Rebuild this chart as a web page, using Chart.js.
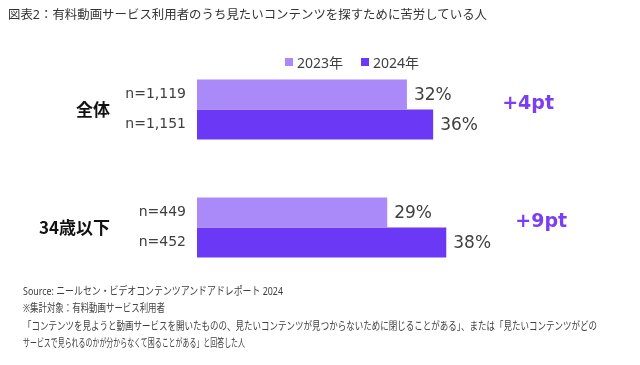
<!DOCTYPE html>
<html lang="ja">

<head>
    <meta charset="UTF-8">
    <script src="https://cdn.jsdelivr.net/npm/chart.js"></script>
    <title>図表2</title>
    <style>
        body { margin: 0; background: #fff; }
        .container { position: relative; width: 640px; height: 365px; overflow: hidden; font-family: "Noto Sans", "Noto Sans CJK JP", sans-serif; color: #333; }
        #grafico { position: absolute; left: 0; top: 0; }
        .titulo { position: absolute; left: 8px; top: 6px; font-size: 12.5px; line-height: 18px; white-space: nowrap; }
        .legenda { position: absolute; top: 54px; font-size: 14px; line-height: 18px; white-space: nowrap; color: #404040; }
        .legenda i { display: inline-block; width: 8px; height: 8px; margin-right: 4px; vertical-align: 2px; }
        .nota { position: absolute; left: 23px; font-size: 11px; line-height: 16px; white-space: nowrap; color: #404040; }
        .fit { display: inline-block; transform-origin: 0 50%; }
    </style>
</head>

<body>
    <div class="container">
        <canvas id="grafico" width="640" height="365"></canvas>
        <div class="titulo"><span class="fit" data-w="479">図表2：有料動画サービス利用者のうち見たいコンテンツを探すために苦労している人</span></div>
        <div class="legenda" id="leg1" style="left:285px"></div>
        <div class="legenda" id="leg2" style="left:361px"></div>
        <div class="nota" style="top:283px"><span class="fit" data-w="260">Source: ニールセン・ビデオコンテンツアンドアドレポート 2024</span></div>
        <div class="nota" style="top:300px"><span class="fit" data-w="142">※集計対象：有料動画サービス利用者</span></div>
        <div class="nota" style="top:318px"><span class="fit" data-w="574">「コンテンツを見ようと動画サービスを開いたものの、見たいコンテンツが見つからないために閉じることがある」、または「見たいコンテンツがどの</span></div>
        <div class="nota" style="top:335px"><span class="fit" data-w="222">サービスで見られるのかが分からなくて困ることがある」と回答した人</span></div>
    </div>
</body>

</html>
<script>
    // dados do gráfico
    var categorias = ['全体', '34歳以下'];
    var anos = ['2023年', '2024年'];
    var valores2023 = [32, 29];
    var valores2024 = [36, 38];
    var amostras2023 = ['n=1,119', 'n=449'];
    var amostras2024 = ['n=1,151', 'n=452'];
    var diferencas = ['+4pt', '+9pt'];

    var cor2023 = '#a98af8';
    var cor2024 = '#6b38f5';

    // legenda em html
    document.getElementById('leg1').innerHTML = '<i style="background:' + cor2023 + '"></i>' + anos[0];
    document.getElementById('leg2').innerHTML = '<i style="background:' + cor2024 + '"></i>' + anos[1];

    // ajusta largura dos textos
    document.querySelectorAll('.fit').forEach(function (el) {
        var w = el.getBoundingClientRect().width;
        var alvo = parseFloat(el.dataset.w);
        el.style.transform = 'scaleX(' + (alvo / w) + ')';
    });

    const rotulos = {
        id: 'rotulos',
        afterDatasetsDraw(chart) {
            const ctx = chart.ctx;
            const xs = chart.scales.x;
            ctx.save();
            ctx.textBaseline = 'middle';
            const amostras = [amostras2023, amostras2024];
            chart.data.datasets.forEach(function (ds, d) {
                chart.getDatasetMeta(d).data.forEach(function (bar, i) {
                    ctx.fillStyle = '#404040';
                    ctx.font = '17px "DejaVu Sans", sans-serif';
                    ctx.textAlign = 'left';
                    ctx.fillText(ds.data[i] + '%', bar.x + 7, bar.y + 1);
                    ctx.font = '14px "DejaVu Sans", sans-serif';
                    ctx.textAlign = 'right';
                    ctx.fillText(amostras[d][i], xs.left - 11, bar.y);
                });
            });
            // diferença entre anos
            ctx.font = 'bold 19px "DejaVu Sans", sans-serif';
            ctx.fillStyle = '#7b3ef3';
            ctx.textAlign = 'left';
            diferencas.forEach(function (txt, i) {
                const maior = Math.max(valores2023[i], valores2024[i]);
                const y = chart.scales.y.getPixelForValue(i);
                ctx.fillText(txt, xs.getPixelForValue(maior) + 69, y - 5);
            });
            ctx.restore();
        }
    };

    const config = {
        type: 'bar',
        data: {
            labels: categorias,
            datasets: [
                { label: anos[0], data: valores2023, backgroundColor: cor2023 },
                { label: anos[1], data: valores2024, backgroundColor: cor2024 }
            ]
        },
        options: {
            indexAxis: 'y',
            responsive: false,
            animation: false,
            categoryPercentage: 0.51,
            barPercentage: 1,
            layout: { padding: { left: 0, right: 115, top: 50.5, bottom: 78.5 } },
            plugins: { legend: { display: false }, tooltip: { enabled: false } },
            scales: {
                x: { display: false, min: 0, max: 50 },
                y: {
                    grid: { display: false, drawTicks: false },
                    border: { display: false },
                    ticks: {
                        padding: 87,
                        color: '#111',
                        font: { family: '"Noto Sans CJK JP", sans-serif', size: 17, weight: 'bold' }
                    },
                    afterFit: function (s) {
                        s.width = 197;
                        s.paddingTop = 0;
                        s.paddingBottom = 0;
                    }
                }
            }
        },
        plugins: [rotulos]
    };

    let myChart = new Chart(document.getElementById('grafico'), config);
</script>
